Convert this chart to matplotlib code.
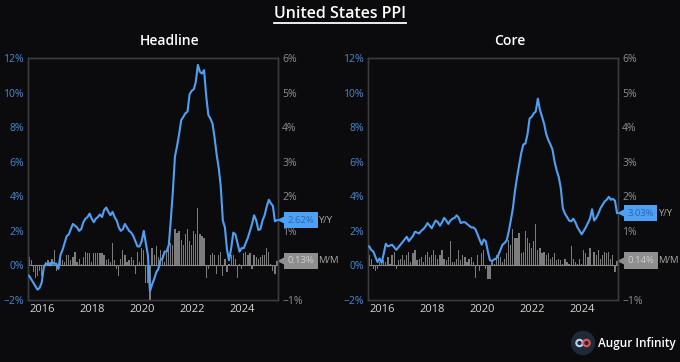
import matplotlib
matplotlib.use("Agg")
import numpy as np
import pandas as pd
import matplotlib.pyplot as plt
import matplotlib.transforms as mtransforms
from matplotlib.patches import Circle
from matplotlib.lines import Line2D
from matplotlib.ticker import FuncFormatter

plt.rcParams['font.family'] = ['Open Sans', 'DejaVu Sans']

# ---------------- data (monthly, Jun 2015 .. May 2025) ----------------
dates = pd.date_range('2015-06-30', '2025-05-31', freq='ME')

headline_yoy = (
    [-0.6, -0.8, -1.0, -1.2, -1.4, -1.3, -1.0] +
    [-0.1, 0.1, 0.1, 0.0, 0.2, 0.1, 0.1, -0.2, 0.6, 0.9, 1.3, 1.7] +
    [1.8, 2.1, 2.4, 2.3, 2.2, 2.0, 2.1, 2.5, 2.7, 2.8, 3.0, 2.7] +
    [2.5, 2.7, 2.8, 2.95, 2.8, 3.2, 3.35, 3.1, 2.9, 3.1, 2.8, 2.6] +
    [2.2, 2.0, 2.1, 2.4, 2.2, 2.0, 1.9, 1.7, 1.4, 1.1, 1.1, 1.4] +
    [2.0, 1.3, 0.6, -1.5, -1.1, -0.8, -0.4, -0.2, 0.3, 0.4, 0.8, 0.8] +
    [1.2, 2.6, 4.3, 6.3, 6.9, 7.6, 8.4, 8.6, 8.8, 8.9, 9.9, 10.1] +
    [10.2, 10.6, 11.6, 11.2, 11.1, 11.3, 9.8, 8.7, 8.5, 8.2, 7.4, 6.4] +
    [5.6, 4.6, 2.6, 2.2, 0.9, 0.3, 1.0, 1.9, 1.8, 1.3, 0.8, 1.0] +
    [1.0, 1.3, 1.6, 2.0, 2.4, 2.9, 2.6, 2.05, 2.1, 2.6, 2.9, 3.4] +
    [3.8, 3.6, 3.45, 2.55, 2.62]
)
headline_mom = (
    [0.25, 0.15, -0.2, -0.35, -0.3, -0.15, -0.3] +
    [-0.25, 0.1, 0.15, 0.1, 0.2, 0.45, -0.15, 0.05, 0.2, 0.15, 0.1, 0.3] +
    [0.3, 0.15, 0.25, 0.4, 0.1, 0.2, 0.05, 0.25, 0.4, 0.35, 0.35, 0.1] +
    [0.35, 0.35, 0.35, 0.35, 0.35, 0.3, 0.15, 0.2, 0.1, 0.65, 0.15, -0.1] +
    [-0.3, 0.2, 0.45, 0.3, 0.1, 0.15, 0.25, 0.15, -0.25, 0.4, 0.1, 0.5] +
    [0.45, -0.5, -0.5, -1.3, 0.5, 0.3, 0.55, 0.25, 0.45, 0.3, 0.1, 0.35] +
    [0.6, 0.65, 0.6, 1.05, 0.95, 1.0, 0.75, 0.6, 0.9, 1.05, 0.7, 0.6] +
    [1.0, 0.9, 1.65, 0.9, 0.85, 0.8, -0.35, -0.1, 0.3, 0.35, 0.3, -0.25] +
    [0.3, 0.4, -0.3, 0.2, -0.2, 0.05, 0.3, 0.3, 0.2, -0.35, 0.05, -0.1] +
    [0.35, 0.4, 0.3, 0.35, -0.1, 0.3, 0.25, 0.2, 0.25, 0.3, 0.3, 0.5] +
    [0.4, 0.05, -0.15, -0.25, 0.13]
)
core_yoy = (
    [1.1, 0.9, 0.8, 0.5, 0.2, 0.4, 0.15] +
    [0.7, 1.25, 1.1, 1.15, 1.2, 1.05, 0.9, 1.05, 1.2, 1.35, 1.5, 1.66] +
    [1.4, 1.55, 1.7, 1.95, 1.9, 1.85, 2.0, 2.1, 2.25, 2.45, 2.3, 2.15] +
    [2.4, 2.6, 2.5, 2.3, 2.5, 2.75, 2.6, 2.4, 2.6, 2.7, 2.75, 2.9] +
    [2.75, 2.45, 2.5, 2.5, 2.4, 2.3, 2.2, 2.2, 2.1, 1.8, 1.5, 1.2] +
    [1.5, 1.4, 0.8, 0.3, 0.25, 0.35, 0.4, 0.6, 0.9, 1.2, 1.3, 1.45] +
    [2.0, 2.6, 3.3, 4.3, 5.1, 5.8, 6.5, 7.0, 7.05, 7.6, 8.5, 8.6] +
    [8.8, 8.9, 9.65, 9.0, 8.6, 8.2, 7.6, 7.25, 7.0, 6.7, 6.0, 5.5] +
    [5.1, 4.5, 3.3, 3.0, 2.8, 2.6, 2.55, 2.7, 2.5, 2.2, 2.0, 1.8] +
    [2.0, 2.2, 2.45, 2.7, 3.25, 2.6, 2.75, 3.0, 3.3, 3.5, 3.7, 3.8] +
    [3.97, 3.8, 3.85, 3.75, 3.03]
)
core_mom = (
    [0.3, 0.2, -0.1, -0.15, -0.1, 0.1, 0.05] +
    [0.15, 0.1, 0.25, 0.05, 0.3, 0.4, -0.1, 0.15, 0.2, 0.3, 0.15, 0.3] +
    [0.4, 0.1, 0.35, 0.45, 0.15, 0.2, 0.25, 0.1, 0.3, 0.4, 0.25, 0.3] +
    [0.45, 0.3, 0.2, 0.3, 0.45, 0.2, 0.15, 0.25, 0.7, 0.1, 0.1, 0.2] +
    [0.45, 0.15, 0.3, 0.25, 0.1, 0.2, 0.25, 0.1, -0.35, 0.3, -0.15, 0.35] +
    [0.45, -0.1, -0.4, -0.4, 0.1, 0.05, 0.3, 0.4, 0.25, 0.1, 0.2, 0.35] +
    [0.75, 0.6, 1.05, 0.8, 0.8, 0.95, 0.35, 0.4, 1.0, 0.8, 0.65, 0.5] +
    [0.7, 1.2, 0.45, 0.5, 0.35, 0.4, 0.3, 0.35, 0.2, 0.25, 0.35, 0.15] +
    [0.2, 0.15, 0.05, 0.2, 0.1, 0.05, 0.55, 0.2, 0.1, 0.05, 0.2, 0.05] +
    [0.45, 0.35, 0.25, 0.5, 0.0, 0.4, 0.3, 0.45, 0.2, 0.3, 0.4, 0.35] +
    [0.4, 0.2, 0.3, -0.2, 0.14]
)
panel_titles = ["Headline", "Core"]
year_ticks = [2016, 2018, 2020, 2022, 2024]
yoy_ticks = [-2, 0, 2, 4, 6, 8, 10, 12]
mom_ticks = [-1, 0, 1, 2, 3, 4, 5, 6]

# ---------------- style ----------------
BG = '#0b0b0d'
LINE = '#4ea0f5'
BAR = '#7c7c7c'
SPINE = '#3c3c3e'
BLUE_TXT = '#4a88d0'
GRAY_TXT = '#8e8e8e'

fig = plt.figure(figsize=(6.8, 3.62), dpi=100, facecolor=BG)

def pct(v, pos=None):
    s = f"{int(round(v))}%"
    return s.replace('-', '\u2212')

def pct_right(v, pos=None):
    # the 0% label sits behind the M/M value box in the original
    if abs(v) < 1e-9:
        return ''
    return pct(v)

panels = [
    (28, headline_yoy, headline_mom, panel_titles[0]),
    (368, core_yoy, core_mom, panel_titles[1]),
]
W, H = 680, 362
for left_px, yoy, mom, title in panels:
    ax = fig.add_axes([left_px / W, (H - 300) / H, 250 / W, 242 / H])
    ax2 = ax.twinx()
    ax.set_zorder(ax2.get_zorder() + 1)
    ax.patch.set_visible(False)
    ax2.set_facecolor(BG)

    ax2.bar(dates, mom, width=18, color=BAR, linewidth=0, zorder=2)
    ax2.axhline(0, color='#8a8a8a', lw=0.8, zorder=1)
    ax.plot(dates, yoy, color=LINE, lw=1.5, zorder=3, solid_joinstyle='round')

    ax.set_ylim(-2, 12)
    ax2.set_ylim(-1, 6)
    ax.set_yticks(yoy_ticks)
    ax2.set_yticks(mom_ticks)
    ax.yaxis.set_major_formatter(FuncFormatter(pct))
    ax2.yaxis.set_major_formatter(FuncFormatter(pct_right))
    ax.set_xlim(pd.Timestamp('2015-06-14'), pd.Timestamp('2025-06-14'))
    ax.set_xticks([pd.Timestamp(f'{y}-01-01') for y in year_ticks])
    ax.set_xticklabels([str(y) for y in year_ticks])

    ax.tick_params(axis='y', length=0, pad=3, labelsize=7.5, labelcolor=BLUE_TXT)
    ax2.tick_params(axis='y', length=0, pad=3, labelsize=7.5, labelcolor=GRAY_TXT)
    ax.tick_params(axis='x', length=0, pad=3, labelsize=8, labelcolor='#d6d6d6')
    for a in (ax, ax2):
        for sp in a.spines.values():
            sp.set_color(SPINE)
            sp.set_linewidth(1.0)

    # end labels
    tr1 = mtransforms.blended_transform_factory(ax.transAxes, ax.transData)
    yv = yoy[-1]
    ax.plot([1.027], [yv], marker='<', ms=11, color=LINE, transform=tr1,
            clip_on=False, zorder=9, markeredgewidth=0)
    ax.text(1.037, yv, f"{yv:.2f}%", transform=tr1, ha='left', va='center',
            fontsize=6.8, color='#2a66b0', zorder=10, clip_on=False,
            bbox=dict(boxstyle='square,pad=0.38', fc=LINE, ec='none'))
    ax.text(1.162, yv, "Y/Y", transform=tr1, ha='left', va='center',
            fontsize=6.8, color='#a8a8a8', clip_on=False)

    tr2 = mtransforms.blended_transform_factory(ax2.transAxes, ax2.transData)
    mv = mom[-1]
    ax2.plot([1.027], [mv], marker='<', ms=11, color='#8e8e8e', transform=tr2,
             clip_on=False, zorder=9, markeredgewidth=0)
    ax2.text(1.037, mv, f"{mv:.2f}%", transform=tr2, ha='left', va='center',
             fontsize=6.8, color='#cfcfcf', zorder=10, clip_on=False,
             bbox=dict(boxstyle='square,pad=0.38', fc='#8e8e8e', ec='none'))
    ax2.text(1.162, mv, "M/M", transform=tr2, ha='left', va='center',
             fontsize=6.8, color='#a8a8a8', clip_on=False)

    fig.text((left_px - 28 + 170) / W, 1 - 41 / H, title, ha='center', va='center',
             fontsize=10, color='white', fontweight='semibold')

# main title with underline
t = fig.text(0.5, 1 - 14 / H, "United States PPI", ha='center', va='center',
             fontsize=11.5, color='white', fontweight='semibold')
fig.canvas.draw()
bb = t.get_window_extent()
fig.add_artist(Line2D([bb.x0 / W, bb.x1 / W], [1 - 23 / H, 1 - 23 / H],
                      color='white', lw=1.3, transform=fig.transFigure))

# logo (pixel-accurate circles via inch-based transform)
tin = fig.dpi_scale_trans
fig.add_artist(Circle((5.83, (H - 343) / 100), 0.115, transform=tin,
                      color='#1e2a38', zorder=5))
fig.add_artist(Circle((5.795, (H - 343) / 100), 0.032, transform=tin,
                      fill=False, ec='#b8d2f2', lw=1.5, zorder=6))
fig.add_artist(Circle((5.865, (H - 343) / 100), 0.032, transform=tin,
                      fill=False, ec='#e5544c', lw=1.5, zorder=6))
fig.text(598 / W, 1 - 343 / H, "Augur Infinity", ha='left', va='center',
         fontsize=8.5, color='white', fontweight='semibold')

fig.savefig('out.png', dpi=100, facecolor=BG)
